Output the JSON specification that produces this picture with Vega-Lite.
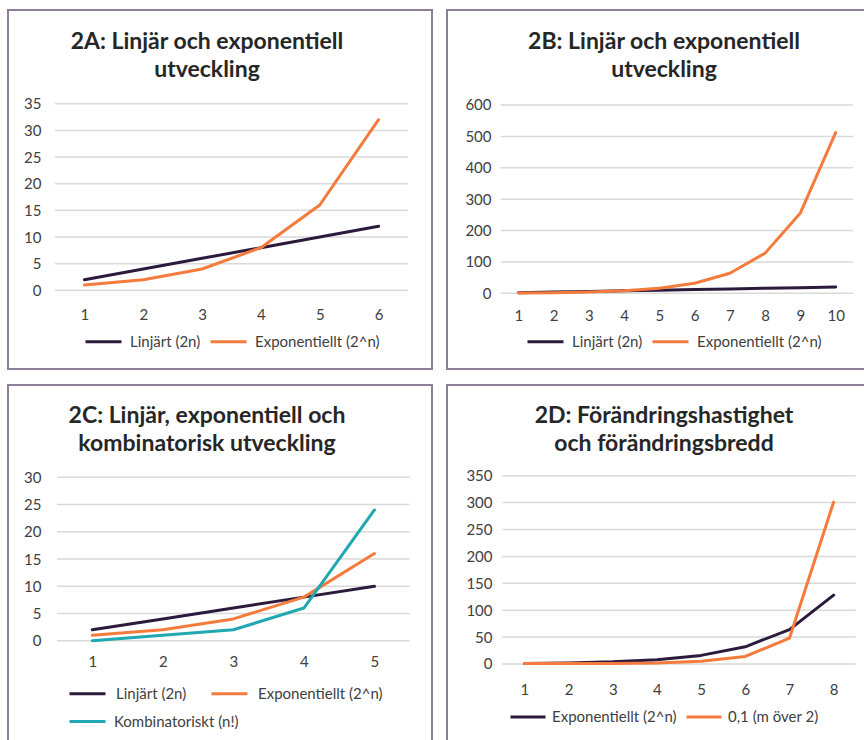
{
  "$schema": "https://vega.github.io/schema/vega-lite/v6.json",
  "padding": {"left": 7, "top": 9, "right": 0, "bottom": 0},
  "autosize": {"type": "pad"},
  "background": "white",
  "config": {
    "view": {"stroke": "#8d7f98", "strokeWidth": 2},
    "font": "Lato",
    "title": {"font": "Lato", "fontSize": 23, "fontWeight": "bold", "color": "#262626", "lineHeight": 28, "anchor": "middle", "frame": "group"},
    "axis": {"labelFont": "Lato", "labelFontSize": 15, "labelColor": "#404040", "grid": false, "domain": false, "ticks": false, "labelPadding": 0},
    "legend": {"labelFont": "Lato", "labelFontSize": 15, "labelColor": "#404040", "symbolType": "stroke", "symbolSize": 1296, "symbolStrokeWidth": 4, "labelOffset": 7, "columnPadding": 8, "direction": "horizontal", "orient": "none", "labelLimit": 400},
    "line": {"strokeWidth": 3, "strokeJoin": "round", "strokeCap": "round"},
    "rule": {"color": "#d9d9d9", "strokeWidth": 1.5}
  },
  "spacing": 14,
  "resolve": {"scale": {"x": "independent", "y": "independent", "color": "independent", "stroke": "independent"}, "legend": {"color": "independent", "stroke": "independent"}},
  "vconcat": [
    {
      "spacing": 13,
      "resolve": {"scale": {"x": "independent", "y": "independent", "color": "independent", "stroke": "independent"}, "legend": {"color": "independent", "stroke": "independent"}},
      "hconcat": [
        {
          "width": 424, "height": 359,
          "title": {"text": ["2A: Linjär och exponentiell", "utveckling"], "dx": -13, "offset": -72},
          "layer": [
            {
              "data": {"values": [{"g": 0}, {"g": 5}, {"g": 10}, {"g": 15}, {"g": 20}, {"g": 25}, {"g": 30}, {"g": 35}]},
              "mark": "rule",
              "encoding": {
                "y": {"field": "g", "type": "quantitative", "title": null, "scale": {"domain": [-14.76, 52.58], "nice": false, "zero": false}, "axis": {"values": [0, 5, 10, 15, 20, 25, 30, 35], "offset": -33}},
                "x": {"datum": 0.5, "type": "quantitative", "title": null, "scale": {"domain": [-0.299, 6.908], "nice": false, "zero": false}, "axis": {"values": [1, 2, 3, 4, 5, 6], "format": "d", "offset": -55, "labelBaseline": "middle"}},
                "x2": {"datum": 6.5}
              }
            },
            {
              "data": {"values": [
                {"n": 1, "s": "Linjärt (2n)", "v": 2}, {"n": 2, "s": "Linjärt (2n)", "v": 4}, {"n": 3, "s": "Linjärt (2n)", "v": 6}, {"n": 4, "s": "Linjärt (2n)", "v": 8}, {"n": 5, "s": "Linjärt (2n)", "v": 10}, {"n": 6, "s": "Linjärt (2n)", "v": 12},
                {"n": 1, "s": "Exponentiellt (2^n)", "v": 1}, {"n": 2, "s": "Exponentiellt (2^n)", "v": 2}, {"n": 3, "s": "Exponentiellt (2^n)", "v": 4}, {"n": 4, "s": "Exponentiellt (2^n)", "v": 8}, {"n": 5, "s": "Exponentiellt (2^n)", "v": 16}, {"n": 6, "s": "Exponentiellt (2^n)", "v": 32}
              ]},
              "mark": "line",
              "encoding": {
                "x": {"field": "n", "type": "quantitative", "title": null, "scale": {"domain": [-0.299, 6.908], "nice": false, "zero": false}, "axis": {"values": [1, 2, 3, 4, 5, 6], "format": "d", "offset": -55, "labelBaseline": "middle"}},
                "y": {"field": "v", "type": "quantitative", "title": null, "scale": {"domain": [-14.76, 52.58], "nice": false, "zero": false}, "axis": {"values": [0, 5, 10, 15, 20, 25, 30, 35], "offset": -33}},
                "color": {"field": "s", "type": "nominal", "scale": {"domain": ["Linjärt (2n)", "Exponentiellt (2^n)"], "range": ["#2b1a3b", "#f47b3c"]}, "legend": {"title": null, "legendX": 76, "legendY": 312}}
              }
            }
          ]
        },
        {
          "width": 418, "height": 359,
          "title": {"text": ["2B: Linjär och exponentiell", "utveckling"], "dx": 8, "offset": -72},
          "layer": [
            {
              "data": {"values": [{"g": 0}, {"g": 100}, {"g": 200}, {"g": 300}, {"g": 400}, {"g": 500}, {"g": 600}]},
              "mark": "rule",
              "encoding": {
                "y": {"field": "g", "type": "quantitative", "title": null, "scale": {"domain": [-241.2, 902.7], "nice": false, "zero": false}, "axis": {"values": [0, 100, 200, 300, 400, 500, 600], "offset": -44}},
                "x": {"datum": 0.5, "type": "quantitative", "title": null, "scale": {"domain": [-1.023, 10.832], "nice": false, "zero": false}, "axis": {"values": [1, 2, 3, 4, 5, 6, 7, 8, 9, 10], "format": "d", "offset": -54, "labelBaseline": "middle"}},
                "x2": {"datum": 10.5}
              }
            },
            {
              "data": {"values": [
                {"n": 1, "s": "Linjärt (2n)", "v": 2}, {"n": 2, "s": "Linjärt (2n)", "v": 4}, {"n": 3, "s": "Linjärt (2n)", "v": 6}, {"n": 4, "s": "Linjärt (2n)", "v": 8}, {"n": 5, "s": "Linjärt (2n)", "v": 10}, {"n": 6, "s": "Linjärt (2n)", "v": 12}, {"n": 7, "s": "Linjärt (2n)", "v": 14}, {"n": 8, "s": "Linjärt (2n)", "v": 16}, {"n": 9, "s": "Linjärt (2n)", "v": 18}, {"n": 10, "s": "Linjärt (2n)", "v": 20},
                {"n": 1, "s": "Exponentiellt (2^n)", "v": 1}, {"n": 2, "s": "Exponentiellt (2^n)", "v": 2}, {"n": 3, "s": "Exponentiellt (2^n)", "v": 4}, {"n": 4, "s": "Exponentiellt (2^n)", "v": 8}, {"n": 5, "s": "Exponentiellt (2^n)", "v": 16}, {"n": 6, "s": "Exponentiellt (2^n)", "v": 32}, {"n": 7, "s": "Exponentiellt (2^n)", "v": 64}, {"n": 8, "s": "Exponentiellt (2^n)", "v": 128}, {"n": 9, "s": "Exponentiellt (2^n)", "v": 256}, {"n": 10, "s": "Exponentiellt (2^n)", "v": 512}
              ]},
              "mark": "line",
              "encoding": {
                "x": {"field": "n", "type": "quantitative", "title": null, "scale": {"domain": [-1.023, 10.832], "nice": false, "zero": false}, "axis": {"values": [1, 2, 3, 4, 5, 6, 7, 8, 9, 10], "format": "d", "offset": -54, "labelBaseline": "middle"}},
                "y": {"field": "v", "type": "quantitative", "title": null, "scale": {"domain": [-241.2, 902.7], "nice": false, "zero": false}, "axis": {"values": [0, 100, 200, 300, 400, 500, 600], "offset": -44}},
                "color": {"field": "s", "type": "nominal", "scale": {"domain": ["Linjärt (2n)", "Exponentiellt (2^n)"], "range": ["#2b1a3b", "#f47b3c"]}, "legend": {"title": null, "legendX": 79, "legendY": 312}}
              }
            }
          ]
        }
      ]
    },
    {
      "spacing": 13,
      "resolve": {"scale": {"x": "independent", "y": "independent", "color": "independent", "stroke": "independent"}, "legend": {"color": "independent", "stroke": "independent"}},
      "hconcat": [
        {
          "width": 424, "height": 357,
          "title": {"text": ["2C: Linjär, exponentiell och", "kombinatorisk utveckling"], "dx": -13, "offset": -71},
          "resolve": {"scale": {"color": "independent", "stroke": "independent"}, "legend": {"color": "independent", "stroke": "independent"}},
          "layer": [
            {
              "data": {"values": [{"g": 0}, {"g": 5}, {"g": 10}, {"g": 15}, {"g": 20}, {"g": 25}, {"g": 30}]},
              "mark": "rule",
              "encoding": {
                "y": {"field": "g", "type": "quantitative", "title": null, "scale": {"domain": [-18.6, 46.95], "nice": false, "zero": false}, "axis": {"values": [0, 5, 10, 15, 20, 25, 30], "offset": -33}},
                "x": {"datum": 0.5, "type": "quantitative", "title": null, "scale": {"domain": [-0.195, 5.816], "nice": false, "zero": false}, "axis": {"values": [1, 2, 3, 4, 5], "format": "d", "offset": -81, "labelBaseline": "middle"}},
                "x2": {"datum": 5.5}
              }
            },
            {
              "data": {"values": [
                {"n": 1, "s": "Linjärt (2n)", "v": 2}, {"n": 2, "s": "Linjärt (2n)", "v": 4}, {"n": 3, "s": "Linjärt (2n)", "v": 6}, {"n": 4, "s": "Linjärt (2n)", "v": 8}, {"n": 5, "s": "Linjärt (2n)", "v": 10},
                {"n": 1, "s": "Exponentiellt (2^n)", "v": 1}, {"n": 2, "s": "Exponentiellt (2^n)", "v": 2}, {"n": 3, "s": "Exponentiellt (2^n)", "v": 4}, {"n": 4, "s": "Exponentiellt (2^n)", "v": 8}, {"n": 5, "s": "Exponentiellt (2^n)", "v": 16}
              ]},
              "mark": "line",
              "encoding": {
                "x": {"field": "n", "type": "quantitative", "title": null, "scale": {"domain": [-0.195, 5.816], "nice": false, "zero": false}, "axis": {"values": [1, 2, 3, 4, 5], "format": "d", "offset": -81, "labelBaseline": "middle"}},
                "y": {"field": "v", "type": "quantitative", "title": null, "scale": {"domain": [-18.6, 46.95], "nice": false, "zero": false}, "axis": {"values": [0, 5, 10, 15, 20, 25, 30], "offset": -33}},
                "color": {"field": "s", "type": "nominal", "scale": {"domain": ["Linjärt (2n)", "Exponentiellt (2^n)"], "range": ["#2b1a3b", "#f47b3c"]}, "legend": {"title": null, "legendX": 60, "legendY": 289, "labelOffset": 9, "columnPadding": 23}}
              }
            },
            {
              "data": {"values": [
                {"n": 1, "k": "Kombinatoriskt (n!)", "v": 0}, {"n": 2, "k": "Kombinatoriskt (n!)", "v": 1}, {"n": 3, "k": "Kombinatoriskt (n!)", "v": 2}, {"n": 4, "k": "Kombinatoriskt (n!)", "v": 6}, {"n": 5, "k": "Kombinatoriskt (n!)", "v": 24}
              ]},
              "mark": "line",
              "encoding": {
                "x": {"field": "n", "type": "quantitative", "title": null, "scale": {"domain": [-0.195, 5.816], "nice": false, "zero": false}, "axis": {"values": [1, 2, 3, 4, 5], "format": "d", "offset": -81, "labelBaseline": "middle"}},
                "y": {"field": "v", "type": "quantitative", "title": null, "scale": {"domain": [-18.6, 46.95], "nice": false, "zero": false}, "axis": {"values": [0, 5, 10, 15, 20, 25, 30], "offset": -33}},
                "stroke": {"field": "k", "type": "nominal", "scale": {"domain": ["Kombinatoriskt (n!)"], "range": ["#1fa8b2"]}, "legend": {"title": null, "legendX": 60, "legendY": 317}}
              }
            }
          ]
        },
        {
          "width": 418, "height": 357,
          "title": {"text": ["2D: Förändringshastighet", "och förändringsbredd"], "dx": 8, "offset": -71},
          "layer": [
            {
              "data": {"values": [{"g": 0}, {"g": 50}, {"g": 100}, {"g": 150}, {"g": 200}, {"g": 250}, {"g": 300}, {"g": 350}]},
              "mark": "rule",
              "encoding": {
                "y": {"field": "g", "type": "quantitative", "title": null, "scale": {"domain": [-145, 518.6], "nice": false, "zero": false}, "axis": {"values": [0, 50, 100, 150, 200, 250, 300, 350], "offset": -45}},
                "x": {"datum": 0.5, "type": "quantitative", "title": null, "scale": {"domain": [-0.752, 8.71], "nice": false, "zero": false}, "axis": {"values": [1, 2, 3, 4, 5, 6, 7, 8], "format": "d", "offset": -53, "labelBaseline": "middle"}},
                "x2": {"datum": 8.5}
              }
            },
            {
              "data": {"values": [
                {"n": 1, "s": "Exponentiellt (2^n)", "v": 1}, {"n": 2, "s": "Exponentiellt (2^n)", "v": 2}, {"n": 3, "s": "Exponentiellt (2^n)", "v": 4}, {"n": 4, "s": "Exponentiellt (2^n)", "v": 8}, {"n": 5, "s": "Exponentiellt (2^n)", "v": 16}, {"n": 6, "s": "Exponentiellt (2^n)", "v": 32}, {"n": 7, "s": "Exponentiellt (2^n)", "v": 64}, {"n": 8, "s": "Exponentiellt (2^n)", "v": 128},
                {"n": 1, "s": "0,1 (m över 2)", "v": 1}, {"n": 2, "s": "0,1 (m över 2)", "v": 1}, {"n": 3, "s": "0,1 (m över 2)", "v": 1}, {"n": 4, "s": "0,1 (m över 2)", "v": 2}, {"n": 5, "s": "0,1 (m över 2)", "v": 5}, {"n": 6, "s": "0,1 (m över 2)", "v": 14}, {"n": 7, "s": "0,1 (m över 2)", "v": 48}, {"n": 8, "s": "0,1 (m över 2)", "v": 301}
              ]},
              "mark": "line",
              "encoding": {
                "x": {"field": "n", "type": "quantitative", "title": null, "scale": {"domain": [-0.752, 8.71], "nice": false, "zero": false}, "axis": {"values": [1, 2, 3, 4, 5, 6, 7, 8], "format": "d", "offset": -53, "labelBaseline": "middle"}},
                "y": {"field": "v", "type": "quantitative", "title": null, "scale": {"domain": [-145, 518.6], "nice": false, "zero": false}, "axis": {"values": [0, 50, 100, 150, 200, 250, 300, 350], "offset": -45}},
                "color": {"field": "s", "type": "nominal", "scale": {"domain": ["Exponentiellt (2^n)", "0,1 (m över 2)"], "range": ["#2b1a3b", "#f47b3c"]}, "legend": {"title": null, "legendX": 62, "legendY": 313, "labelOffset": 5, "symbolSize": 1225}}
              }
            }
          ]
        }
      ]
    }
  ]
}
